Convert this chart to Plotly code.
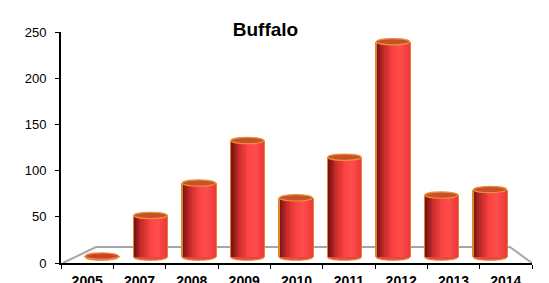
import plotly.graph_objects as go

years = ["2005", "2007", "2008", "2009", "2010", "2011", "2012", "2013", "2014"]
values = [1, 45, 80, 126, 64, 108, 233, 67, 73]
y_ticks = [0, 50, 100, 150, 200, 250]

W, H = 549, 283
L, R, T, B = 61, 17, 32, 20
BASE = 6.5          # cylinders stand at mid-depth of the 3D floor
BAR_W = 0.68        # bar width in bar-axis units
N = 18              # shading strips per cylinder
FLOOR_DEPTH = 17.3  # floor back edge, in y units

def shade(t):
    stops = [(0.0, (110, 18, 18)), (0.22, (200, 42, 42)), (0.5, (250, 68, 68)),
             (0.72, (255, 76, 76)), (1.0, (236, 56, 56))]
    for (t0, c0), (t1, c1) in zip(stops, stops[1:]):
        if t <= t1:
            f = (t - t0) / (t1 - t0)
            c = [round(a + (b - a) * f) for a, b in zip(c0, c1)]
            return f"rgb({c[0]},{c[1]},{c[2]})"
    return "rgb(236,56,56)"

fig = go.Figure()

# invisible trace to populate the category axis with labels
fig.add_trace(go.Scatter(x=years, y=[0] * len(years), mode="markers",
                         marker=dict(opacity=0), hoverinfo="skip", showlegend=False,
                         xaxis="x", yaxis="y"))

idx = list(range(len(years)))
# orange outline behind cylinders
fig.add_trace(go.Bar(x=idx, y=values, base=BASE, width=BAR_W + 0.05,
                     marker=dict(color="#e0852f", line=dict(width=0)),
                     xaxis="x2", yaxis="y", showlegend=False, hoverinfo="skip"))
sw = BAR_W / N
for k in range(N):
    fig.add_trace(go.Bar(x=idx, y=values, base=BASE, width=sw + 0.004,
                         offset=-BAR_W / 2 + k * sw,
                         marker=dict(color=shade((k + 0.5) / N), line=dict(width=0)),
                         xaxis="x2", yaxis="y", showlegend=False, hoverinfo="skip"))

shapes = []
# floor
shapes.append(dict(type="path", xref="paper", yref="y",
                   path=f"M 0.004,0 L 0.0743,{FLOOR_DEPTH} L 0.953,{FLOOR_DEPTH} L 1,0",
                   line=dict(color="#a6a6a6", width=2), layer="below"))
EH = 3.4
for i, v in zip(idx, values):
    # bottom rounding
    shapes.append(dict(type="circle", xref="x2", yref="y",
                       x0=i - BAR_W / 2, x1=i + BAR_W / 2, y0=BASE - EH, y1=BASE + EH,
                       fillcolor="#e94444", line=dict(color="#e0852f", width=1.2),
                       layer="below"))
    # top cap
    top = BASE + v
    shapes.append(dict(type="circle", xref="x2", yref="y",
                       x0=i - BAR_W / 2, x1=i + BAR_W / 2, y0=top - EH, y1=top + EH,
                       fillcolor="#c9512a" if v > 5 else "#cf3f2c",
                       line=dict(color="#e8903a", width=1.2),
                       layer="above"))

fig.update_layout(
    width=W, height=H,
    margin=dict(l=L, r=R, t=T, b=B, autoexpand=False),
    paper_bgcolor="white", plot_bgcolor="white",
    barmode="overlay",
    bargap=0,
    showlegend=False,
    title=dict(text="<b>Buffalo</b>", x=265.5 / W, xanchor="center", xref="container",
               y=1 - 29 / H, yanchor="middle", yref="container", automargin=False,
               font=dict(family="Liberation Sans, Arial", size=19, color="black")),
    font=dict(family="Liberation Sans, Arial", color="black"),
    xaxis=dict(type="category", categoryorder="array", categoryarray=years,
               range=[-0.5, len(years) - 0.5], showgrid=False, zeroline=False,
               showline=True, linecolor="black", linewidth=1.5, automargin=False,
               ticks="outside", ticklen=4, tickcolor="black", tickwidth=1,
               tickson="boundaries", ticklabelstandoff=4,
               tickfont=dict(size=14, weight="bold", color="black"),
               fixedrange=True),
    xaxis2=dict(overlaying="x", range=[-0.845, 8.866], visible=False,
                showgrid=False, zeroline=False),
    yaxis=dict(range=[0, 250], tickvals=y_ticks, showgrid=False, zeroline=False,
               showline=True, linecolor="black", linewidth=2, automargin=False,
               ticks="outside", ticklen=4, tickcolor="black", tickwidth=1,
               tickfont=dict(size=13, color="black"), ticklabelstandoff=6),
    shapes=shapes,
)

fig.write_html("out.html", config={"displayModeBar": False},
               post_script="document.body.style.margin='0';document.body.style.overflow='hidden';")
